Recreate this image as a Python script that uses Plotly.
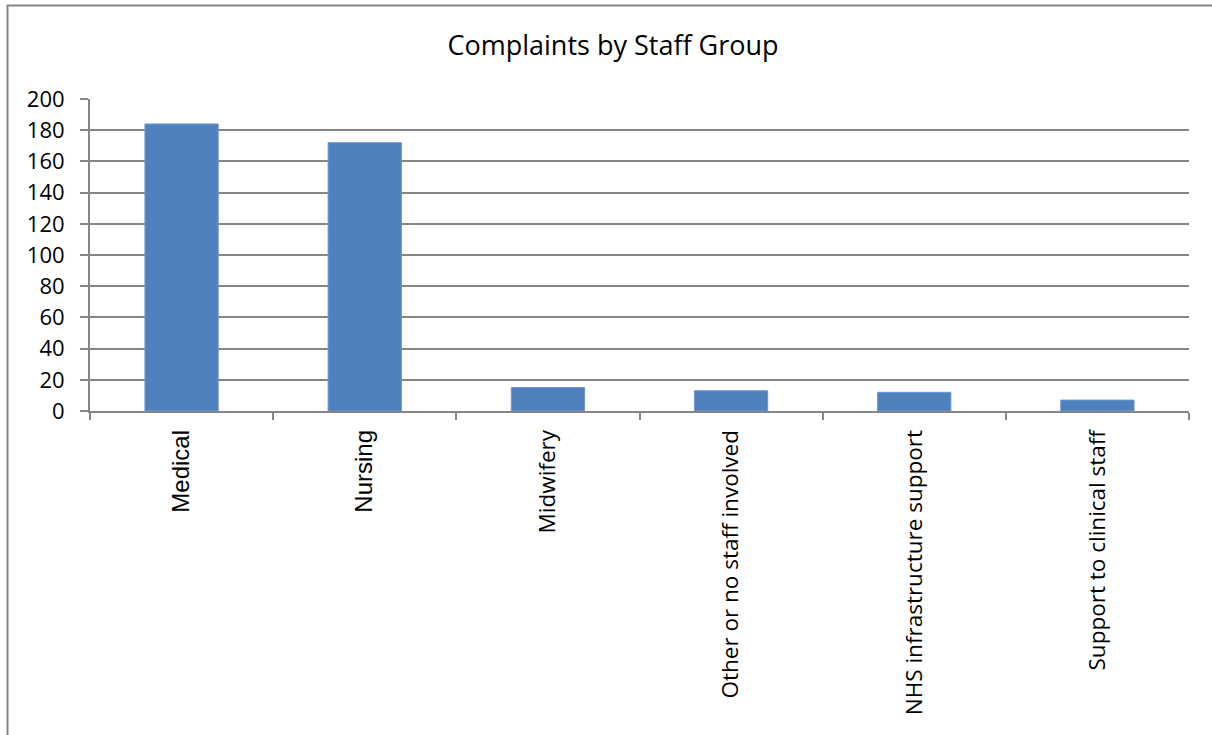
import plotly.graph_objects as go

# Complaints per staff group
categories = [
    "Medical",
    "Nursing",
    "Midwifery",
    "Other or no staff involved",
    "NHS infrastructure support",
    "Support to clinical staff",
]
complaints = [184, 172, 15, 13, 12, 7]

# The first two category labels are set in a different typeface
arial_labels = {"Medical", "Nursing"}

y_ticks = list(range(0, 201, 20))

FONT = "Open Sans"
GRID = "#868686"

tick_text = [
    f'<span style="font-family:Liberation Sans;font-size:24px">{c}</span>'
    if c in arial_labels else c
    for c in categories
]

fig = go.Figure(
    go.Bar(
        x=categories,
        y=complaints,
        marker=dict(color="#4f81bd", line=dict(color="#6f97cc", width=1)),
        hoverinfo="x+y",
    )
)

fig.update_layout(
    width=1212,
    height=735,
    margin=dict(l=90, r=23, t=99, b=324),
    paper_bgcolor="white",
    plot_bgcolor="white",
    bargap=0.6,
    showlegend=False,
    title=dict(
        text="Complaints by Staff Group",
        x=613 / 1212,
        xref="container",
        xanchor="center",
        y=1 - 46 / 735,
        yanchor="middle",
        font=dict(family=FONT, size=27, color="black"),
    ),
    font=dict(family=FONT, color="black"),
)

fig.update_xaxes(
    type="category",
    tickmode="array",
    tickvals=categories,
    ticktext=tick_text,
    tickangle=-90,
    tickfont=dict(family=FONT, size=22.5, color="black"),
    showline=True,
    linecolor=GRID,
    linewidth=2,
    ticks="outside",
    tickson="boundaries",
    ticklen=7,
    tickcolor=GRID,
    tickwidth=2,
    showgrid=False,
    ticklabelstandoff=8,
)

fig.update_yaxes(
    range=[0, 200],
    tickvals=y_ticks,
    tickfont=dict(family=FONT, size=22, color="black"),
    showline=True,
    linecolor=GRID,
    linewidth=2,
    ticks="outside",
    ticklen=8,
    tickcolor=GRID,
    tickwidth=2,
    showgrid=True,
    gridcolor=GRID,
    gridwidth=1.5,
    zeroline=False,
    ticklabelstandoff=11,
)

# Chart frame around the whole figure
fig.add_shape(
    type="rect",
    xref="paper",
    yref="paper",
    x0=(7.5 - 90) / 1099,
    x1=(1225 - 90) / 1099,
    y0=-1.5,
    y1=(411 - 5.5) / 312,
    line=dict(color="#868686", width=2),
    fillcolor="rgba(0,0,0,0)",
    layer="below",
)

fig.write_html("out.html")
